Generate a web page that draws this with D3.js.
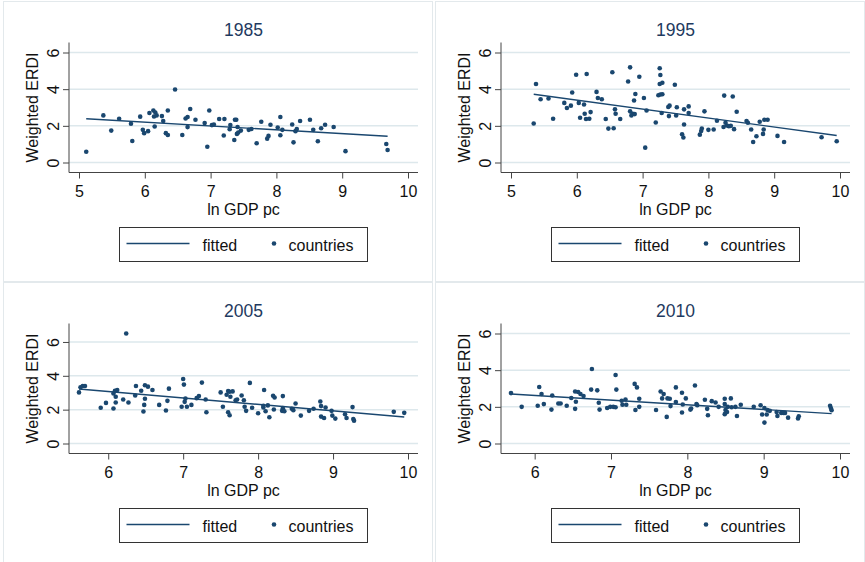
<!DOCTYPE html>
<html>
<head>
<meta charset="utf-8">
<script src="https://cdn.jsdelivr.net/npm/d3@7"></script>
<style>
    body { margin: 0; background: #fff; }
    svg { display: block; font-family: "Liberation Sans", Arial, Helvetica, sans-serif; }
</style>
</head>
<body>
<div id="chart"></div>
<script>
// ─── 1. DATA ───
const years = ['1985', '1995', '2005', '2010'];

const gdp1985 = [5.11,5.37,5.49,5.61,5.79,5.81,5.93,5.97,5.99,6.05,
    6.07,6.13,6.14,6.16,6.18,6.15,6.26,6.28,6.32,6.35,
    6.35,6.46,6.57,6.62,6.65,6.65,6.69,6.77,6.91,6.95,
    6.98,7.02,7.05,7.13,7.20,7.21,7.29,7.30,7.36,7.37,
    7.39,7.40,7.41,7.42,7.46,7.58,7.62,7.70,7.77,7.86,
    7.88,7.91,8.02,8.06,8.06,8.09,8.24,8.26,8.29,8.31,
    8.36,8.51,8.56,8.63,8.68,8.74,8.87,9.05,9.67,9.69];
const erdi1985 = [0.59,2.57,1.74,2.39,2.11,1.17,2.50,1.78,1.60,1.71,
    2.70,2.84,2.51,2.73,2.57,1.96,2.53,2.26,1.60,1.50,
    2.84,3.98,1.50,2.40,2.48,1.93,2.92,2.33,2.15,0.86,
    2.84,2.04,2.07,2.37,1.47,2.37,1.82,2.04,1.23,2.33,
    2.33,1.56,1.94,1.63,1.74,1.78,1.83,1.05,2.22,1.30,
    1.45,2.06,1.91,2.48,1.49,1.78,2.07,1.10,1.71,1.83,
    2.26,2.33,1.78,1.16,1.87,2.06,1.94,0.62,1.01,0.68];

const gdp1995 = [5.345,5.38,5.45,5.57,5.64,5.81,5.85,5.91,5.93,5.99,
    6.03,6.05,6.11,6.12,6.14,6.15,6.19,6.21,6.30,6.32,
    6.38,6.44,6.48,6.54,6.56,6.58,6.59,6.66,6.78,6.81,
    6.81,6.83,6.85,6.87,6.88,6.89,6.95,7.02,7.04,7.06,
    7.20,7.26,7.27,7.26,7.30,7.24,7.27,7.30,7.29,7.39,
    7.41,7.40,7.49,7.52,7.51,7.60,7.62,7.63,7.63,7.70,
    7.70,7.87,7.89,7.90,7.94,8.00,8.08,8.13,8.24,8.23,
    8.26,8.28,8.31,8.34,8.37,8.39,8.43,8.58,8.60,8.65,
    8.68,8.73,8.78,8.83,8.84,8.85,8.90,9.05,9.15,9.72,9.95];
const erdi1995 = [2.13,4.28,3.45,3.49,2.39,3.25,2.97,3.10,3.82,4.79,
    3.25,2.44,3.16,2.66,2.37,4.83,2.39,2.75,3.85,3.52,
    3.45,2.37,1.85,4.92,1.87,2.90,2.66,2.37,4.42,5.19,
    2.79,2.57,2.66,3.38,2.64,3.74,4.68,3.52,0.81,2.84,
    2.18,5.14,4.77,4.28,4.35,3.67,3.71,3.72,2.70,3.03,
    3.10,2.53,4.24,3.01,2.57,1.54,1.36,2.07,2.90,3.06,
    2.70,1.52,1.72,1.85,2.79,1.78,1.80,2.28,3.65,1.94,
    2.17,2.02,1.98,2.00,3.60,1.82,2.77,2.26,2.17,1.80,
    1.12,1.43,2.22,1.56,1.80,2.33,2.33,1.45,1.12,1.38,1.16];

const gdp2005 = [5.61,5.63,5.66,5.69,5.90,5.97,6.07,6.07,6.09,6.10,
    6.10,6.12,6.20,6.24,6.27,6.36,6.37,6.44,6.47,6.48,
    6.49,6.49,6.53,6.59,6.68,6.77,6.79,6.81,6.98,7.00,
    7.01,7.02,7.03,7.05,7.11,7.18,7.21,7.25,7.30,7.31,
    7.50,7.53,7.58,7.60,7.60,7.62,7.62,7.63,7.66,7.70,
    7.72,7.78,7.81,7.82,7.84,7.89,7.92,8.00,8.07,8.07,
    8.08,8.10,8.13,8.15,8.20,8.22,8.21,8.32,8.33,8.33,
    8.35,8.45,8.47,8.50,8.57,8.68,8.74,8.83,8.84,8.84,
    8.88,8.90,8.98,8.99,9.03,9.16,9.18,9.26,9.27,9.28,9.81,9.95];
const erdi2005 = [3.02,3.32,3.40,3.40,2.11,2.40,2.07,2.96,3.12,2.76,
    2.42,3.16,2.60,6.50,2.42,2.84,3.40,3.12,1.89,2.28,
    2.64,3.44,3.36,3.16,2.28,1.95,2.52,3.24,2.17,3.81,
    3.48,2.46,2.66,2.17,2.28,2.68,2.80,3.60,2.60,1.85,
    3.02,2.17,2.88,3.10,1.85,1.67,3.06,2.76,3.08,2.56,
    2.60,2.84,2.56,2.17,1.93,3.58,2.11,1.79,2.23,2.13,
    3.16,1.91,2.25,1.55,2.82,2.72,2.01,1.93,2.09,2.80,
    1.91,2.05,1.97,2.36,1.65,1.93,2.05,2.48,2.21,1.59,
    1.51,2.13,1.93,1.65,1.47,1.73,1.51,2.15,1.45,1.35,1.87,1.81];

const gdp2010 = [5.69,5.83,6.04,6.06,6.09,6.12,6.22,6.23,6.31,6.34,
    6.42,6.48,6.53,6.53,6.54,6.57,6.60,6.64,6.74,6.75,
    6.82,6.84,6.85,6.95,6.99,7.03,7.06,7.06,7.07,7.14,
    7.15,7.19,7.20,7.31,7.32,7.34,7.37,7.37,7.59,7.65,
    7.67,7.69,7.74,7.73,7.77,7.78,7.85,7.85,7.93,7.93,
    7.94,7.98,8.04,8.05,8.10,8.12,8.13,8.23,8.26,8.27,
    8.32,8.37,8.41,8.49,8.49,8.50,8.49,8.52,8.53,8.57,
    8.58,8.63,8.65,8.70,8.87,8.96,8.98,9.01,9.01,9.04,
    9.05,9.08,9.17,9.18,9.23,9.26,9.28,9.32,9.45,9.46,9.87,9.88,9.89];
const erdi2010 = [2.75,2.00,2.06,3.08,2.70,2.15,1.85,2.62,2.18,2.18,
    2.06,2.48,1.89,2.84,2.28,2.81,2.70,2.59,2.94,4.06,
    2.90,2.22,1.85,1.94,2.00,2.00,1.98,3.74,2.94,2.33,
    2.11,2.40,2.11,3.25,1.83,3.06,2.44,2.00,1.83,2.84,
    2.46,2.70,2.46,1.45,2.44,2.04,3.06,2.26,2.77,1.69,
    2.13,2.46,1.85,1.91,3.16,2.15,2.09,2.39,1.89,1.54,
    2.31,2.24,2.00,2.44,2.15,1.83,1.60,1.72,2.00,2.46,
    1.98,2.00,1.50,2.11,2.00,2.09,1.58,1.14,1.93,1.58,
    1.83,1.78,1.72,1.50,1.67,1.67,1.67,1.41,1.36,1.49,2.06,1.93,1.82];

// fitted line end points, per panel
const fitX = [[5.11, 9.69], [5.345, 9.95], [5.61, 9.95], [5.69, 9.89]];
const fitY = [[2.39, 1.43], [3.72, 1.47], [3.22, 1.57], [2.70, 1.63]];

// tick labels
const xTicks = [[5, 6, 7, 8, 9, 10], [5, 6, 7, 8, 9, 10], [6, 7, 8, 9, 10], [6, 7, 8, 9, 10]];
const yTicks = [0, 2, 4, 6];

const gdpSeries = [gdp1985, gdp1995, gdp2005, gdp2010];
const erdiSeries = [erdi1985, erdi1995, erdi2005, erdi2010];

// ─── 2. LAYOUT ───
const width = 865, height = 562;
const panelW = 432, panelH = 281;
const plot = { left: 69, right: 418, top: 42.5, bottom: 172.5, pad: 10 };
const navy = '#1a476f';
const fmt = d3.format('d');

const svg = d3.select('#chart').append('svg')
    .attr('width', width)
    .attr('height', height);

// ─── 3. ONE PANEL PER YEAR ───
const renderPanel = (i) => {
    const ox = (i % 2) * panelW;
    const oy = Math.floor(i / 2) * panelH;
    const data = gdpSeries[i].map((x, k) => ({ x, y: erdiSeries[i][k] }));

    const g = svg.append('g').attr('transform', `translate(${ox},${oy})`);

    // faint outer frame of each graph
    g.append('rect')
        .attr('x', 3.5).attr('y', 1.5)
        .attr('width', panelW - 3).attr('height', panelH - 1)
        .attr('fill', 'none')
        .attr('stroke', '#e3e9ec');

    const xExt = d3.extent(data.map(d => d.x).concat(xTicks[i]));
    const yExt = d3.extent(data.map(d => d.y).concat(yTicks));

    const x = d3.scaleLinear()
        .domain(xExt)
        .range([plot.left + plot.pad, plot.right - plot.pad]);

    const y = d3.scaleLinear()
        .domain(yExt)
        .range([plot.bottom - plot.pad, plot.top + plot.pad]);

    // gridlines
    g.append('g').selectAll('line')
        .data(yTicks)
        .enter().append('line')
        .attr('x1', plot.left).attr('x2', plot.right)
        .attr('y1', d => y(d)).attr('y2', d => y(d))
        .attr('stroke', '#dde8ec')
        .attr('stroke-width', 1.5);

    // axes
    const xAxis = g.append('g')
        .attr('transform', `translate(0,${plot.bottom})`)
        .call(d3.axisBottom(x).tickValues(xTicks[i]).tickFormat(fmt).tickSize(6).tickSizeOuter(0))
        .call(a => a.select('.domain').remove());
    xAxis.selectAll('.tick line').attr('stroke', '#444');
    xAxis.selectAll('.tick text')
        .attr('y', 24.5).attr('dy', 0)
        .attr('font-size', '16px')
        .attr('fill', '#111');

    const yAxis = g.append('g')
        .attr('transform', `translate(${plot.left},0)`)
        .call(d3.axisLeft(y).tickValues(yTicks).tickFormat(fmt).tickSize(6).tickSizeOuter(0))
        .call(a => a.select('.domain').remove());
    yAxis.selectAll('.tick line').attr('stroke', '#444');
    yAxis.selectAll('.tick text')
        .attr('x', 0).attr('y', 0).attr('dy', 0)
        .attr('transform', 'translate(-10,0) rotate(-90)')
        .attr('text-anchor', 'middle')
        .attr('font-size', '16px')
        .attr('fill', '#111');

    // axis spines
    g.append('line')
        .attr('x1', plot.left).attr('x2', plot.left)
        .attr('y1', plot.top).attr('y2', plot.bottom)
        .attr('stroke', '#444');
    g.append('line')
        .attr('x1', plot.left).attr('x2', plot.right)
        .attr('y1', plot.bottom).attr('y2', plot.bottom)
        .attr('stroke', '#444');

    // fitted line
    const line = d3.line().x(d => x(d[0])).y(d => y(d[1]));
    g.append('path')
        .datum(fitX[i].map((v, k) => [v, fitY[i][k]]))
        .attr('d', line)
        .attr('fill', 'none')
        .attr('stroke', navy)
        .attr('stroke-width', 1.4);

    // countries
    g.append('g').selectAll('circle')
        .data(data)
        .enter().append('circle')
        .attr('cx', d => x(d.x))
        .attr('cy', d => y(d.y))
        .attr('r', 2.3)
        .attr('fill', navy);

    // titles
    g.append('text')
        .attr('x', (plot.left + plot.right) / 2).attr('y', 36)
        .attr('text-anchor', 'middle')
        .attr('font-size', '17.5px')
        .attr('fill', '#1f3a60')
        .text(years[i]);

    g.append('text')
        .attr('x', (plot.left + plot.right) / 2).attr('y', 215)
        .attr('text-anchor', 'middle')
        .attr('font-size', '16px')
        .attr('fill', '#111')
        .text('ln GDP pc');

    g.append('text')
        .attr('transform', `translate(38,${(plot.top + plot.bottom) / 2}) rotate(-90)`)
        .attr('text-anchor', 'middle')
        .attr('font-size', '16px')
        .attr('fill', '#111')
        .text('Weighted ERDI');

    // legend
    const lg = g.append('g').attr('transform', 'translate(119.5,227.5)');
    lg.append('rect')
        .attr('width', 248).attr('height', 34)
        .attr('fill', '#fff')
        .attr('stroke', '#333');
    lg.append('line')
        .attr('x1', 7).attr('x2', 70)
        .attr('y1', 16).attr('y2', 16)
        .attr('stroke', navy)
        .attr('stroke-width', 1.4);
    lg.append('text')
        .attr('x', 83).attr('y', 23)
        .attr('font-size', '16px')
        .attr('fill', '#111')
        .text('fitted');
    lg.append('circle')
        .attr('cx', 154.5).attr('cy', 16)
        .attr('r', 2.3)
        .attr('fill', navy);
    lg.append('text')
        .attr('x', 169).attr('y', 23)
        .attr('font-size', '16px')
        .attr('fill', '#111')
        .text('countries');
};

years.forEach((_, i) => renderPanel(i));
</script>
</body>
</html>
